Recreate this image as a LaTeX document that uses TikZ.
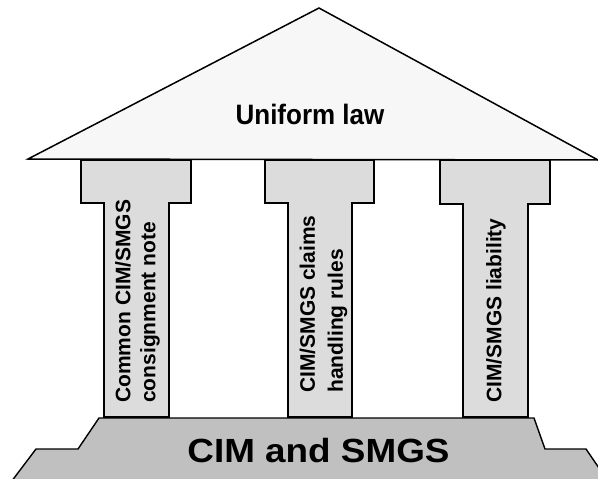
\documentclass[tikz,border=0pt]{standalone}
\usepackage{fontspec}
\setmainfont{Liberation Sans}
\usetikzlibrary{positioning}

\definecolor{roofgray}{HTML}{F7F7F7}
\definecolor{pillargray}{HTML}{DCDCDC}
\definecolor{basegray}{HTML}{C0C0C0}

\begin{document}
\begin{tikzpicture}[x=1pt, y=-1pt, line join=miter,
  roof/.style={draw, line width=1.5pt, fill=roofgray},
  pillar/.style={draw, line width=1.4pt, fill=pillargray},
  plinth/.style={draw, line width=1.4pt, fill=basegray},
  pillartext/.style={rotate=90, inner sep=0pt, align=left, anchor=south west,
    font=\bfseries\fontsize{21}{25}\selectfont}]
\useasboundingbox (0,0) rectangle (598,479);
\clip (0,0) rectangle (598,479);

% roof
\draw[roof] (28,159) -- (319,8) -- (598,160) -- cycle;
\node[font=\bfseries\fontsize{26}{30}\selectfont, yscale=1.08] (law) at (310,114) {Uniform law};

% the three pillars, cap and shaft in one outline
\draw[pillar] (81,160) -- (191,160) -- (191,203) -- (169,203) -- (169,417)
  -- (104,417) -- (104,203) -- (81,203) -- cycle;
\draw[pillar] (265,160) -- (374,160) -- (374,203) -- (352,203) -- (352,417)
  -- (288,417) -- (288,203) -- (265,203) -- cycle;
\draw[pillar] (440,160) -- (550,160) -- (550,204) -- (528,204) -- (528,417)
  -- (463,417) -- (463,204) -- (440,204) -- cycle;

\node[pillartext] (note) at (160,403) {Common CIM/SMGS\\consignment note};
\node[pillartext, font=\bfseries\fontsize{21}{28}\selectfont] (claims) at (347.5,393)
  {CIM/SMGS claims\\handling rules};
\node[pillartext] (liab) at (506,403) {CIM/SMGS liability};

% stepped base
\draw[plinth] (99,418) -- (534,418) -- (545,449) -- (586,449) -- (614,490)
  -- (5,490) -- (36,449) -- (78,449) -- cycle;
\node[font=\bfseries\fontsize{33.5}{38}\selectfont, xscale=1.1] (cim) at (318.5,451)
  {CIM and SMGS};
\end{tikzpicture}
\end{document}
